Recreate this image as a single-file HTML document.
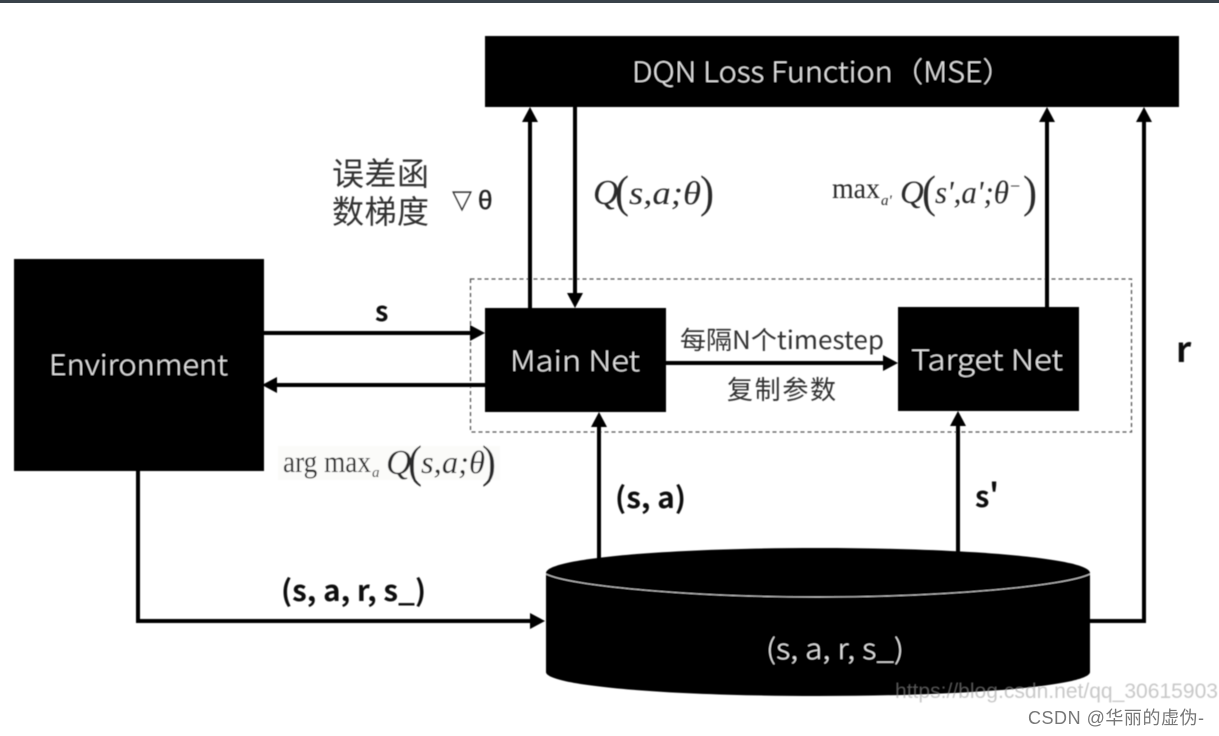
<!DOCTYPE html>
<html lang="zh">
<head>
<meta charset="utf-8">
<style>
html,body{margin:0;padding:0;background:#fff;width:1219px;height:736px;overflow:hidden}
svg{display:block}
text{font-family:"Noto Sans CJK SC","DejaVu Sans",sans-serif}
.cjk{font-family:"Noto Sans CJK SC","WenQuanYi Zen Hei",sans-serif}
.ser{font-family:"Liberation Serif","DejaVu Serif",serif;fill:#2c2c2c}
.w{fill:#e4e4e4;font-weight:300}
.b{font-family:"Noto Sans CJK SC","Liberation Sans",sans-serif;font-weight:700;fill:#111}
</style>
</head>
<body>
<svg width="1219" height="736" viewBox="0 0 1219 736" xmlns="http://www.w3.org/2000/svg">
<defs><filter id="s" x="-5%" y="-5%" width="110%" height="110%"><feGaussianBlur stdDeviation="0.5"/></filter></defs>
<rect width="1219" height="736" fill="#fff"/>
<rect width="1219" height="3" fill="#39424a"/>
<g filter="url(#s)">
<rect x="470.500" y="279" width="661" height="153" fill="none" stroke="#555" stroke-width="1.300" stroke-dasharray="4 3"/>
<rect x="485" y="36" width="694" height="71" fill="#000"/>
<rect x="14" y="259" width="250" height="212" fill="#000"/>
<rect x="485" y="308" width="181" height="104" fill="#000"/>
<rect x="898" y="307" width="181" height="104" fill="#000"/>
<g stroke="#000" stroke-width="4" fill="none">
<path d="M530 308V118"/>
<path d="M575 107V296"/>
<path d="M1047 307V118"/>
<path d="M1089 621H1144V118"/>
<path d="M264 333H472"/>
<path d="M485 385H276"/>
<path d="M666 363H886"/>
<path d="M599 560V424"/>
<path d="M958 560V423"/>
<path d="M138 471V621H532"/>
</g>
<g fill="#000">
<path d="M530 107l-8 15h16z"/>
<path d="M575 308l-8-15h16z"/>
<path d="M1047 107l-8 15h16z"/>
<path d="M1144 107l-8 15h16z"/>
<path d="M485 333l-15-8v16z"/>
<path d="M262 385l15-8v16z"/>
<path d="M898 363l-15-8v16z"/>
<path d="M599 412l-8 15h16z"/>
<path d="M958 411l-8 15h16z"/>
<path d="M545 621l-15-8v16z"/>
</g>
<path d="M546 573C546 558 670 548 818 548S1090 558 1090 573V672C1090 686 966 696 818 696S546 686 546 672Z" fill="#000"/>
<path d="M546 574C570 586 690 597 818 597S1066 586 1090 574" fill="none" stroke="#ccc" stroke-width="1"/>

<text x="632" y="82" font-size="28" class="w" textLength="381" lengthAdjust="spacingAndGlyphs">DQN Loss Function（MSE）</text>
<text x="49" y="375" font-size="28" class="w" textLength="179" lengthAdjust="spacingAndGlyphs">Environment</text>
<text x="510" y="371" font-size="28" class="w" textLength="130" lengthAdjust="spacingAndGlyphs">Main Net</text>
<text x="911" y="370" font-size="28" class="w" textLength="152" lengthAdjust="spacingAndGlyphs">Target Net</text>
<text x="766" y="659" font-size="28" class="w" textLength="138" lengthAdjust="spacingAndGlyphs">(s, a, r, s_)</text>

<text x="332" y="185" font-size="32" class="cjk" fill="#333" textLength="97">误差函</text>
<text x="332" y="223" font-size="32" class="cjk" fill="#333" textLength="97">数梯度</text>
<text x="452" y="208" font-size="26" fill="#333" style="font-family:'DejaVu Sans',sans-serif">▽</text>
<text x="478" y="209" font-size="26" fill="#222" stroke="#222" stroke-width=".4" style="font-family:'Liberation Sans',sans-serif">θ</text>

<text x="593" y="204" font-size="35" font-style="italic" class="ser">Q</text>
<text x="615" y="207" font-size="45" class="ser" textLength="14" lengthAdjust="spacingAndGlyphs">(</text>
<text x="629" y="204" font-size="33" font-style="italic" class="ser" textLength="72" lengthAdjust="spacingAndGlyphs">s,a;θ</text>
<text x="700" y="207" font-size="45" class="ser" textLength="14" lengthAdjust="spacingAndGlyphs">)</text>

<text x="832" y="198" font-size="30" class="ser" textLength="48" lengthAdjust="spacingAndGlyphs">max</text>
<text x="881" y="205" font-size="15" font-style="italic" class="ser">a'</text>
<text x="900" y="203" font-size="33" font-style="italic" class="ser">Q</text>
<text x="922" y="207" font-size="45" class="ser" textLength="14" lengthAdjust="spacingAndGlyphs">(</text>
<text x="935" y="203" font-size="32" font-style="italic" class="ser" textLength="74" lengthAdjust="spacingAndGlyphs">s',a';θ</text>
<text x="1010" y="192" font-size="18" class="ser">−</text>
<text x="1023" y="207" font-size="45" class="ser" textLength="14" lengthAdjust="spacingAndGlyphs">)</text>

<rect x="278" y="446" width="222" height="34" fill="#fbfbf9"/>
<text x="283" y="472" font-size="31" class="ser" textLength="88" lengthAdjust="spacingAndGlyphs">arg max</text>
<text x="372" y="477" font-size="15" font-style="italic" class="ser">a</text>
<text x="386" y="474" font-size="35" font-style="italic" class="ser">Q</text>
<text x="408" y="477" font-size="45" class="ser" textLength="14" lengthAdjust="spacingAndGlyphs">(</text>
<text x="421" y="473" font-size="32" font-style="italic" class="ser" textLength="64" lengthAdjust="spacingAndGlyphs">s,a;θ</text>
<text x="482" y="477" font-size="45" class="ser" textLength="14" lengthAdjust="spacingAndGlyphs">)</text>

<text x="375" y="321" font-size="27" class="b">s</text>
<text x="680" y="349" font-size="25" class="cjk" fill="#333" textLength="204" lengthAdjust="spacingAndGlyphs">每隔N个timestep</text>
<text x="727" y="399" font-size="26" class="cjk" fill="#333" textLength="109">复制参数</text>
<text x="615" y="508" font-size="29" class="b" textLength="71" lengthAdjust="spacingAndGlyphs">(s, a)</text>
<text x="975" y="507" font-size="29" class="b">s'</text>
<text x="1176" y="362" font-size="35" class="b">r</text>
<text x="281" y="601" font-size="29" class="b" textLength="145" lengthAdjust="spacingAndGlyphs">(s, a, r, s_)</text>
</g>
<text x="895" y="698" font-size="21.500" fill="#9a9a9a" fill-opacity="0.55" style="font-family:'Liberation Sans',sans-serif" filter="url(#s)" textLength="323" lengthAdjust="spacingAndGlyphs">https://blog.csdn.net/qq_30615903</text>
<text x="1028" y="724" font-size="18" fill="#777" style="font-family:'Liberation Sans','Noto Sans CJK SC',sans-serif" textLength="176">CSDN @华丽的虚伪-</text>
</svg>
</body>
</html>
